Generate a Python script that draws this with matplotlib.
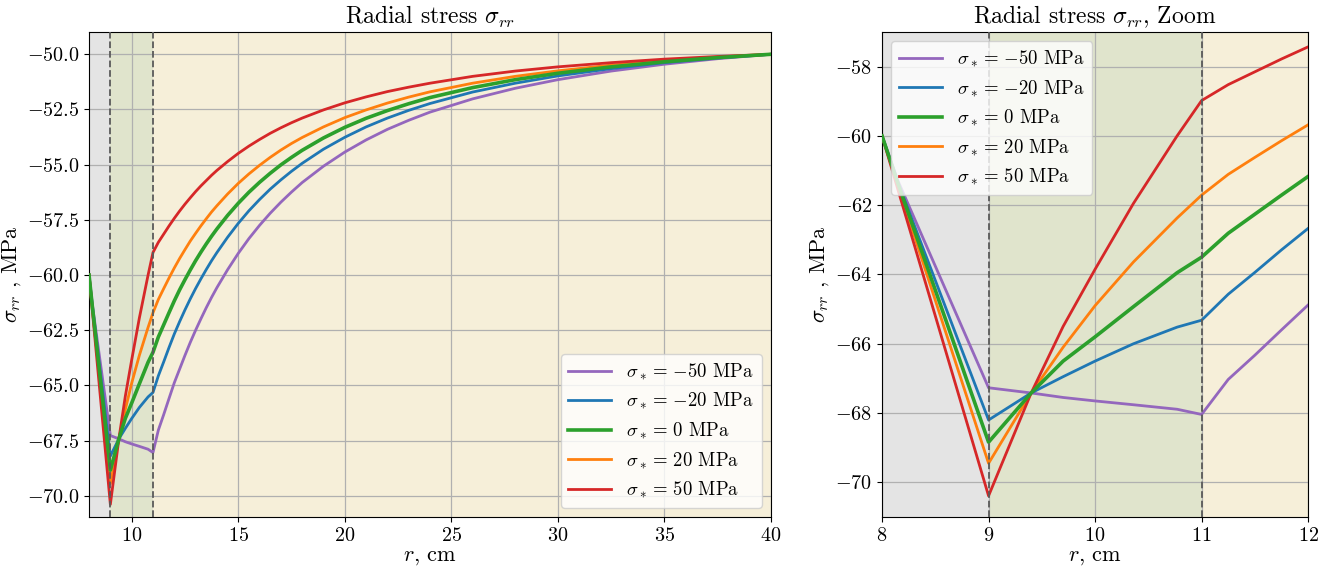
import matplotlib
matplotlib.use("Agg")
import matplotlib.pyplot as plt

plt.rcParams.update({
    "font.family": "serif",
    "font.serif": ["cmr10"],
    "mathtext.fontset": "cm",
    "axes.formatter.use_mathtext": True,
    "axes.unicode_minus": True,
})

# radial coordinate of the sampled nodes, cm
r = [8, 8.15, 9, 9.4, 9.7, 10, 10.36, 10.77, 11,
     11.25, 11.5, 11.75, 12, 12.25, 12.5, 12.75, 13, 13.25, 13.5, 13.75, 14,
     14.5, 15, 15.5, 16, 16.5, 17, 17.5, 18, 19, 20, 21, 22, 23, 24,
     26, 28, 30, 32.5, 35, 37.5, 40]

# radial stress, MPa, for each value of sigma_*
s_m50 = [-60.0, -61.30, -67.27, -67.42, -67.55, -67.65, -67.76, -67.89, -68.04,
         -67.03, -66.33, -65.60, -64.88, -64.26, -63.64, -63.05, -62.50,
         -61.98, -61.48, -61.01, -60.57, -59.76, -59.02, -58.35, -57.75,
         -57.20, -56.70, -56.24, -55.81, -55.07, -54.43, -53.88, -53.40, -52.99, -52.62,
         -52.02, -51.54, -51.15, -50.76, -50.45, -50.20, -50.0]
s_m20 = [-60.0, -61.35, -68.20, -67.42, -66.95, -66.50, -66.00, -65.52, -65.32,
         -64.57, -63.94, -63.29, -62.67, -62.11, -61.58, -61.08, -60.61,
         -60.17, -59.75, -59.35, -58.98, -58.29, -57.66, -57.09, -56.58,
         -56.11, -55.69, -55.30, -54.94, -54.30, -53.76, -53.29, -52.89, -52.54, -52.23,
         -51.71, -51.31, -50.98, -50.65, -50.38, -50.17, -50.0]
s_0 = [-60.0, -61.38, -68.84, -67.42, -66.50, -65.80, -64.93, -63.95, -63.50,
       -62.81, -62.26, -61.71, -61.17, -60.67, -60.21, -59.77, -59.35,
       -58.96, -58.59, -58.24, -57.91, -57.30, -56.75, -56.25, -55.80,
       -55.39, -55.01, -54.67, -54.35, -53.79, -53.31, -52.90, -52.55, -52.24, -51.96,
       -51.51, -51.15, -50.86, -50.57, -50.34, -50.15, -50.0]
s_20 = [-60.0, -61.45, -69.45, -67.42, -66.10, -64.90, -63.64, -62.37, -61.71,
        -61.11, -60.62, -60.14, -59.68, -59.25, -58.85, -58.46, -58.11,
        -57.77, -57.45, -57.14, -56.86, -56.33, -55.85, -55.42, -55.03,
        -54.67, -54.34, -54.04, -53.77, -53.29, -52.87, -52.52, -52.21, -51.94, -51.70,
        -51.31, -51.00, -50.75, -50.49, -50.29, -50.13, -50.0]
s_50 = [-60.0, -61.56, -70.39, -67.42, -65.50, -63.85, -61.95, -60.00, -58.98,
        -58.52, -58.15, -57.78, -57.43, -57.10, -56.79, -56.50, -56.22,
        -55.96, -55.72, -55.48, -55.26, -54.86, -54.49, -54.16, -53.86,
        -53.58, -53.33, -53.10, -52.89, -52.52, -52.20, -51.93, -51.69, -51.49, -51.31,
        -51.00, -50.76, -50.57, -50.38, -50.22, -50.10, -50.0]

series = [
    (s_m50, r"$\sigma_* =\,{-50}$ MPa", "#9467bd", 2.0, 2),
    (s_m20, r"$\sigma_* =\,{-20}$ MPa", "#1f77b4", 2.0, 2),
    (s_0, r"$\sigma_* =\,{0}$ MPa", "#2ca02c", 2.6, 4),
    (s_20, r"$\sigma_* =\,{20}$ MPa", "#ff7f0e", 2.0, 3),
    (s_50, r"$\sigma_* =\,{50}$ MPa", "#d62728", 2.0, 3),
]

# material layers: core, interlayer, surrounding medium
layers = [(8, 9, "#e4e4e4"), (9, 11, "#e0e4cc"), (11, 40, "#f6efd9")]
boundaries = [9, 11]

fig = plt.figure(figsize=(13.31, 5.68), dpi=100)
ax1 = fig.add_axes([0.0669, 0.0898, 0.5124, 0.8539])
ax2 = fig.add_axes([0.6627, 0.0898, 0.3201, 0.8539])


def draw(ax):
    for a, b, c in layers:
        ax.axvspan(a, b, color=c, lw=0, zorder=0)
    for x in boundaries:
        ax.axvline(x, color="#5a5a5a", ls="--", lw=1.3, zorder=5)
    for vals, lab, col, lw, z in series:
        ax.plot(r, vals, color=col, lw=lw, label=lab, zorder=z)
    ax.grid(True, color="#b0b0b0", lw=0.9)
    ax.tick_params(labelsize=14.5)
    ax.set_xlabel(r"$r$, cm", fontsize=16, labelpad=2)
    ax.set_ylabel(r"$\sigma_{rr}$ , MPa", fontsize=16, labelpad=3)


draw(ax1)
ax1.set_xlim(8, 40)
ax1.set_ylim(-70.96, -48.99)
ax1.set_xticks([10, 15, 20, 25, 30, 35, 40])
ax1.set_yticks([-50, -52.5, -55, -57.5, -60, -62.5, -65, -67.5, -70])
ax1.set_yticklabels(["$-50.0$", "$-52.5$", "$-55.0$", "$-57.5$", "$-60.0$",
                     "$-62.5$", "$-65.0$", "$-67.5$", "$-70.0$"])
ax1.set_title(r"Radial stress $\sigma_{rr}$", fontsize=17)
ax1.legend(loc="lower right", fontsize=13.5, handlelength=2.3)

draw(ax2)
ax2.set_xlim(8, 12)
ax2.set_ylim(-71, -57)
ax2.set_xticks([8, 9, 10, 11, 12])
ax2.set_yticks([-58, -60, -62, -64, -66, -68, -70])
ax2.set_title(r"Radial stress $\sigma_{rr}$, Zoom", fontsize=17)
ax2.legend(loc="upper left", fontsize=13.5, handlelength=2.3)

fig.savefig("out.png", dpi=100)
